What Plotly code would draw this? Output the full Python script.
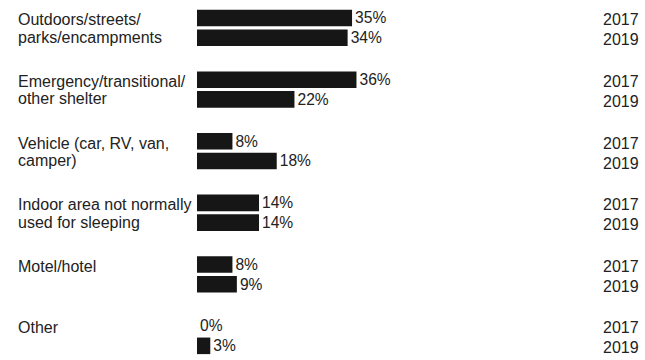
import plotly.graph_objects as go

categories = [
    "Outdoors/streets/<br>parks/encampments",
    "Emergency/transitional/<br>other shelter",
    "Vehicle (car, RV, van,<br>camper)",
    "Indoor area not normally<br>used for sleeping",
    "Motel/hotel",
    "Other",
]
years = ["2017", "2019"]
values_2017 = [35, 36, 8, 14, 8, 0]
values_2019 = [34, 22, 18, 14, 9, 3]

FONT = "Liberation Sans, Arial, Helvetica, sans-serif"
BAR = "#161616"
TXT = "#222222"
W, H = 645, 360

fig = go.Figure()
for yr, vals in zip(years, [values_2017, values_2019]):
    fig.add_trace(go.Bar(
        y=categories, x=vals, orientation="h", name=yr,
        marker=dict(color=BAR, line=dict(width=0)),
        texttemplate="%{x}%", textposition="outside",
        textfont=dict(family=FONT, size=16, color=TXT),
        cliponaxis=False, hoverinfo="skip",
    ))

annotations = []
for cat in categories:
    for k, line in enumerate(cat.split("<br>")):
        annotations.append(dict(
            x=16 / W, xref="paper", xanchor="left",
            y=cat, yref="y", yanchor="middle",
            yshift=8 - k * 17.3, text=line, showarrow=False,
            font=dict(family=FONT, size=16, color=TXT),
        ))
    for j, yr in enumerate(years):
        annotations.append(dict(
            x=641 / W, xref="paper", xanchor="right",
            y=cat, yref="y", yanchor="middle",
            yshift=8 - j * 20, text=yr, showarrow=False,
            font=dict(family=FONT, size=16, color=TXT),
        ))

fig.update_layout(
    width=W, height=H,
    margin=dict(l=0, r=0, t=0, b=0),
    paper_bgcolor="white", plot_bgcolor="white",
    barmode="group", bargap=0.36, bargroupgap=0.16,
    showlegend=False,
    xaxis=dict(range=[0, 100], domain=[197 / W, 640 / W], visible=False),
    yaxis=dict(type="category", range=[5.39, -0.453], visible=False),
    annotations=annotations,
)

fig.write_html("out.html")
